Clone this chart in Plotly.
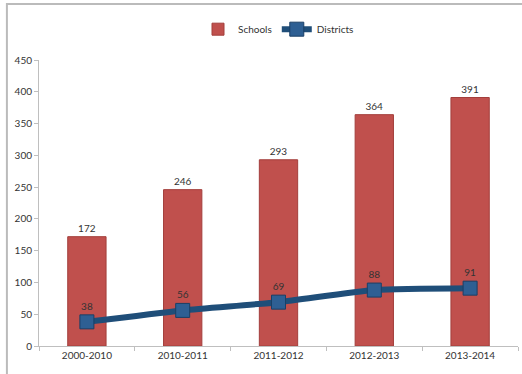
import plotly.graph_objects as go

periods = ["2000-2010", "2010-2011", "2011-2012", "2012-2013", "2013-2014"]
schools = [172, 246, 293, 364, 391]
districts = [38, 56, 69, 88, 91]
y_ticks = [0, 50, 100, 150, 200, 250, 300, 350, 400, 450]

font = dict(family="Lato, Open Sans, sans-serif", size=10, color="#333333")

fig = go.Figure()
fig.add_trace(go.Bar(
    x=periods, y=schools, name="Schools",
    marker=dict(color="#C0504D", line=dict(color="#A33E3B", width=1)),
    width=0.4,
    text=[str(v) for v in schools], textposition="outside",
    textfont=font, cliponaxis=False,
))
fig.add_trace(go.Scatter(
    x=periods, y=districts, name="Districts",
    mode="lines+markers+text",
    line=dict(color="#1F4E79", width=6, shape="spline", smoothing=0.6),
    marker=dict(symbol="square", size=14, color="#2E5F93",
                line=dict(color="#1A3F66", width=1)),
    text=[str(v) for v in districts], textposition="top center",
    textfont=font,
))

fig.update_layout(
    width=522, height=374,
    margin=dict(l=39, r=4, t=60, b=28, autoexpand=False),
    paper_bgcolor="white", plot_bgcolor="white",
    font=font,
    showlegend=True,
    legend=dict(orientation="h", x=0.5, xanchor="center",
                yref="container", y=0.922, yanchor="middle",
                bgcolor="rgba(0,0,0,0)",
                font=dict(family="Lato, Open Sans, sans-serif", size=10, color="#333333")),
    bargap=0.6,
    shapes=[dict(type="rect", xref="paper", yref="paper",
                 x0=-0.067, x1=1.05, y0=-0.2, y1=1.196,
                 line=dict(color="#BBBBBB", width=2), layer="below")],
)
fig.update_yaxes(range=[0, 450], tickvals=y_ticks, showgrid=False,
                 showline=True, linecolor="#BFBFBF", linewidth=1,
                 ticks="outside", ticklen=4, tickcolor="#BFBFBF",
                 zeroline=False, tickfont=font)
fig.update_xaxes(showgrid=False, showline=True, linecolor="#BFBFBF", linewidth=1,
                 ticks="outside", ticklen=4, tickcolor="#BFBFBF",
                 tickson="boundaries", tickfont=font)

fig.write_html("out.html")
